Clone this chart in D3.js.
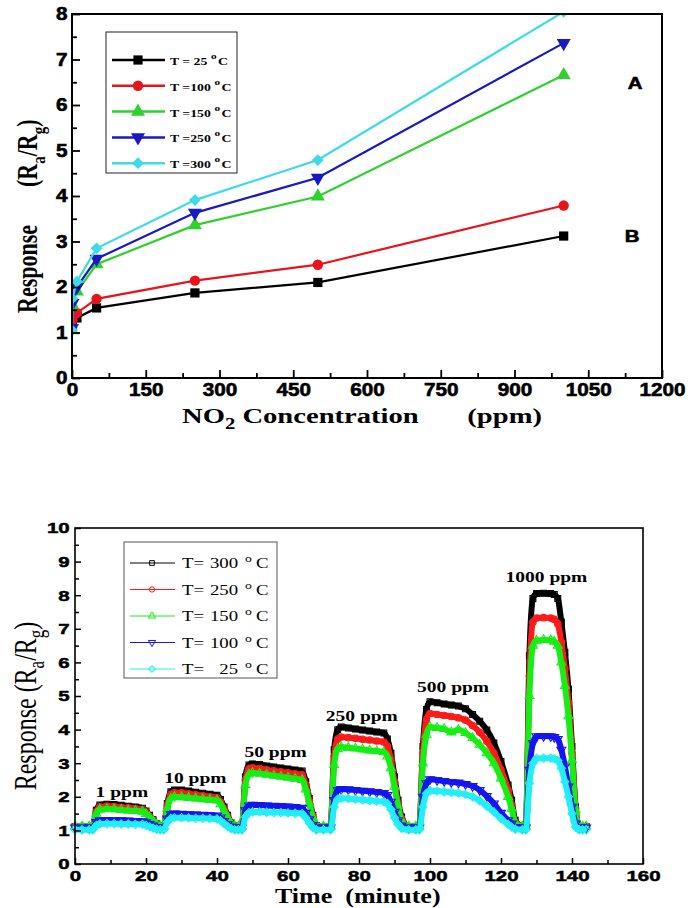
<!DOCTYPE html>
<html>
<head>
<meta charset="utf-8">
<script src="https://cdn.jsdelivr.net/npm/d3@7"></script>
<style>
  body { margin: 0; background: #fff; }
  svg { display: block; }
</style>
</head>
<body>
<svg id="chart" width="688" height="908"></svg>
<script>
// ---------- top panel: response vs NO2 concentration ----------
const concentration = [0, 1, 10, 50, 250, 500, 1000];
const resp25  = [1.10, 1.20, 1.32, 1.54, 1.87, 2.10, 3.12];
const resp100 = [1.10, 1.28, 1.43, 1.74, 2.14, 2.49, 3.79];
const resp150 = [1.05, 1.60, 1.90, 2.50, 3.36, 3.99, 6.66];
const resp250 = [1.10, 1.65, 2.00, 2.62, 3.63, 4.40, 7.36];
const resp300 = [1.05, 1.75, 2.12, 2.85, 3.91, 4.79, 8.05];
const topLegend = ['T = 25', 'T =100', 'T =150', 'T =250', 'T =300'];

const xTicksTop = [0, 150, 300, 450, 600, 750, 900, 1050, 1200];
const xMinorTop = [75, 225, 375, 525, 675, 825, 975, 1125];
const yTicksTop = [0, 1, 2, 3, 4, 5, 6, 7, 8];
const yMinorTop = [0.5, 1.5, 2.5, 3.5, 4.5, 5.5, 6.5, 7.5];

// ---------- bottom panel: dynamic response vs time ----------
const minutes = [
  0, 2, 4, 5, 6, 7, 9, 11, 13, 15, 17, 19, 20, 21, 22, 23, 24, 25,
  26, 27, 28, 30, 32, 34, 36, 38, 40, 41, 42, 43, 44, 45, 46, 47,
  48, 49, 50, 52, 54, 56, 58, 60, 62, 64, 65, 66, 67, 68, 70, 72,
  73, 74, 75, 77, 79, 81, 83, 85, 87, 88, 89, 90, 91, 92, 94, 96, 97,
  98, 99, 100, 102, 104, 106, 108, 110, 112, 114, 116, 118, 120, 122, 123, 124, 126, 127,
  128, 129, 130, 132, 134, 135, 136, 137, 138, 139, 140, 141, 142, 143, 144
];
const t300 = [
  1.12, 1.12, 1.12, 1.12, 1.6, 1.76, 1.78, 1.77, 1.75, 1.72, 1.7, 1.66, 1.58, 1.45, 1.32, 1.2, 1.13, 1.12,
  1.8, 2.15, 2.2, 2.2, 2.17, 2.14, 2.11, 2.08, 2.05, 1.92, 1.7, 1.45, 1.22, 1.13, 1.12, 1.12,
  2.6, 2.95, 2.98, 2.96, 2.92, 2.89, 2.86, 2.83, 2.8, 2.77, 2.45, 1.95, 1.45, 1.15, 1.12, 1.12,
  3.4, 4.0, 4.08, 4.05, 4.02, 3.99, 3.96, 3.93, 3.9, 3.72, 3.3, 2.6, 1.9, 1.4, 1.12, 1.12, 1.12,
  3.5, 4.6, 4.83, 4.8, 4.76, 4.73, 4.7, 4.62, 4.45, 4.25, 3.99, 3.6, 3.05, 2.35, 1.9, 1.3, 1.12, 1.12,
  6.2, 7.9, 8.05, 8.06, 8.05, 8.02, 7.9, 7.2, 6.3, 5.2, 3.5, 1.7, 1.12, 1.12, 1.12
];
const t250 = [
  1.12, 1.12, 1.12, 1.12, 1.55, 1.7, 1.72, 1.71, 1.69, 1.67, 1.65, 1.62, 1.54, 1.42, 1.3, 1.19, 1.13, 1.12,
  1.75, 2.07, 2.12, 2.12, 2.09, 2.06, 2.03, 2.0, 1.97, 1.85, 1.64, 1.41, 1.2, 1.13, 1.12, 1.12,
  2.5, 2.83, 2.86, 2.84, 2.8, 2.77, 2.74, 2.71, 2.68, 2.65, 2.35, 1.88, 1.42, 1.15, 1.12, 1.12,
  3.2, 3.72, 3.78, 3.76, 3.74, 3.71, 3.69, 3.66, 3.63, 3.5, 3.1, 2.45, 1.8, 1.35, 1.12, 1.12, 1.12,
  3.3, 4.3, 4.48, 4.45, 4.42, 4.39, 4.35, 4.28, 4.12, 3.92, 3.65, 3.3, 2.8, 2.2, 1.75, 1.25, 1.12, 1.12,
  5.6, 7.2, 7.32, 7.33, 7.32, 7.28, 7.15, 6.6, 5.8, 4.8, 3.3, 1.65, 1.12, 1.12, 1.12
];
const t150 = [
  1.12, 1.12, 1.12, 1.12, 1.5, 1.62, 1.64, 1.63, 1.61, 1.59, 1.58, 1.56, 1.49, 1.39, 1.28, 1.18, 1.13, 1.12,
  1.65, 1.95, 2.0, 1.99, 1.97, 1.95, 1.93, 1.91, 1.89, 1.78, 1.58, 1.37, 1.19, 1.13, 1.12, 1.12,
  2.35, 2.67, 2.71, 2.69, 2.66, 2.63, 2.6, 2.57, 2.54, 2.5, 2.22, 1.8, 1.38, 1.14, 1.12, 1.12,
  2.95, 3.42, 3.48, 3.46, 3.44, 3.41, 3.38, 3.36, 3.33, 3.2, 2.85, 2.3, 1.72, 1.3, 1.12, 1.12, 1.12,
  3.0, 3.85, 4.08, 4.05, 4.02, 3.92, 4.0, 3.9, 3.75, 3.55, 3.3, 3.0, 2.55, 2.0, 1.65, 1.22, 1.12, 1.12,
  5.0, 6.5, 6.65, 6.67, 6.66, 6.62, 6.5, 6.0, 5.3, 4.4, 3.1, 1.6, 1.12, 1.12, 1.12
];
const t100 = [
  1.08, 1.08, 1.08, 1.08, 1.25, 1.3, 1.31, 1.3, 1.3, 1.29, 1.28, 1.27, 1.24, 1.19, 1.14, 1.1, 1.08, 1.08,
  1.35, 1.48, 1.5, 1.49, 1.48, 1.47, 1.46, 1.45, 1.44, 1.38, 1.28, 1.18, 1.11, 1.08, 1.08, 1.08,
  1.6, 1.74, 1.76, 1.75, 1.74, 1.73, 1.72, 1.71, 1.69, 1.67, 1.52, 1.33, 1.16, 1.08, 1.08, 1.08,
  1.9, 2.2, 2.23, 2.22, 2.2, 2.18, 2.16, 2.14, 2.11, 2.05, 1.85, 1.55, 1.3, 1.14, 1.08, 1.08, 1.08,
  2.0, 2.4, 2.52, 2.5, 2.47, 2.44, 2.42, 2.38, 2.32, 2.2, 2.02, 1.8, 1.52, 1.3, 1.2, 1.1, 1.08, 1.08,
  2.8, 3.6, 3.8, 3.81, 3.8, 3.78, 3.72, 3.4, 2.9, 2.3, 1.7, 1.2, 1.08, 1.08, 1.08
];
const t25 = [
  1.02, 1.02, 1.02, 1.02, 1.15, 1.19, 1.2, 1.2, 1.19, 1.19, 1.18, 1.18, 1.15, 1.11, 1.07, 1.04, 1.02, 1.02,
  1.25, 1.36, 1.38, 1.38, 1.37, 1.36, 1.36, 1.35, 1.34, 1.29, 1.2, 1.12, 1.05, 1.02, 1.02, 1.02,
  1.4, 1.53, 1.55, 1.55, 1.54, 1.53, 1.53, 1.52, 1.51, 1.5, 1.38, 1.22, 1.08, 1.02, 1.02, 1.02,
  1.7, 1.93, 1.96, 1.95, 1.93, 1.91, 1.89, 1.87, 1.85, 1.8, 1.62, 1.38, 1.18, 1.06, 1.02, 1.02, 1.02,
  1.7, 2.1, 2.18, 2.17, 2.15, 2.13, 2.11, 2.07, 2.0, 1.88, 1.72, 1.55, 1.35, 1.18, 1.1, 1.04, 1.02, 1.02,
  2.4, 3.0, 3.14, 3.15, 3.15, 3.13, 3.08, 2.85, 2.45, 2.0, 1.5, 1.1, 1.02, 1.02, 1.02
];
const bottomLegend = ['300', '250', '150', '100', '25'];
const pulseLabels = ['1 ppm', '10 ppm', '50 ppm', '250 ppm', '500 ppm', '1000 ppm'];
const pulseLabelTime = [13.2, 33.9, 56.5, 80.8, 106.5, 132.8];
const pulseLabelLevel = [2.0, 2.41, 3.18, 4.26, 5.12, 8.39];

const xTicksBot = [0, 20, 40, 60, 80, 100, 120, 140, 160];
const xMinorBot = [10, 30, 50, 70, 90, 110, 130, 150];
const yTicksBot = [0, 1, 2, 3, 4, 5, 6, 7, 8, 9, 10];
const yMinorBot = [0.5, 1.5, 2.5, 3.5, 4.5, 5.5, 6.5, 7.5, 8.5, 9.5];

// ---------- drawing ----------
const SERIF = '"Liberation Serif", "Times New Roman", serif';
const SANS = '"Liberation Sans", Arial, sans-serif';

const svg = d3.select('#chart');

const shapes = {
  square:  {type: d3.symbolSquare,   rot: 0},
  circle:  {type: d3.symbolCircle,   rot: 0},
  up:      {type: d3.symbolTriangle, rot: 0},
  down:    {type: d3.symbolTriangle, rot: 180},
  diamond: {type: d3.symbolSquare,   rot: 45}
};

// text that is a bit wider than normal, like the scanned figure
function wideText(parent, x, y, sx, vertical) {
  return parent.append('text')
    .attr('transform', `translate(${x},${y}) scale(${sx},1)` + (vertical ? ' rotate(-90)' : ''));
}

function frameAxes(g, x, y, cfg) {
  const [x0, x1] = x.range(), [y0, y1] = y.range();
  g.append('g').attr('transform', `translate(0,${y0})`)
    .call(d3.axisBottom(x).tickValues(cfg.xTicks).tickSize(-cfg.major).tickPadding(cfg.xPad).tickFormat(d3.format('d')));
  g.append('g').attr('transform', `translate(0,${y0})`)
    .call(d3.axisBottom(x).tickValues(cfg.xMinor).tickSize(-cfg.minor).tickFormat(''));
  g.append('g').attr('transform', `translate(${x0},0)`)
    .call(d3.axisLeft(y).tickValues(cfg.yTicks).tickSize(-cfg.major).tickPadding(cfg.yPad).tickFormat(d3.format('d')));
  g.append('g').attr('transform', `translate(${x0},0)`)
    .call(d3.axisLeft(y).tickValues(cfg.yMinor).tickSize(-cfg.minor).tickFormat(''));

  g.selectAll('.domain').remove();
  g.selectAll('.tick line').attr('stroke', '#000').attr('stroke-width', cfg.tickW);
  g.selectAll('.tick text')
    .attr('fill', '#000')
    .attr('stroke', '#000')
    .attr('stroke-width', cfg.heavy)
    .attr('font-family', SANS)
    .attr('font-weight', 'bold')
    .attr('font-size', cfg.font)
    .attr('transform', `scale(${cfg.sx},1)`);

  g.append('rect')
    .attr('x', x0).attr('y', y1)
    .attr('width', x1 - x0).attr('height', y0 - y1)
    .attr('fill', 'none')
    .attr('stroke', '#000')
    .attr('stroke-width', cfg.frame);
}

// ===== top chart =====
const topBox = {left: 72, right: 662, top: 14, bottom: 378};
const xTop = d3.scaleLinear().domain([0, 1200]).range([topBox.left, topBox.right]);
const yTop = d3.scaleLinear().domain([0, 8]).range([topBox.bottom, topBox.top]);

const topSeries = [
  {values: resp25,  color: '#000000', shape: 'square',  label: topLegend[0]},
  {values: resp100, color: '#e8141b', shape: 'circle',  label: topLegend[1]},
  {values: resp150, color: '#2ed12e', shape: 'up',      label: topLegend[2]},
  {values: resp250, color: '#1818c4', shape: 'down',    label: topLegend[3]},
  {values: resp300, color: '#3cdbe6', shape: 'diamond', label: topLegend[4]}
];

const gTop = svg.append('g');

svg.append('clipPath').attr('id', 'clipTop')
  .append('rect')
  .attr('x', topBox.left).attr('y', topBox.top)
  .attr('width', topBox.right - topBox.left).attr('height', topBox.bottom - topBox.top);

const topPlot = gTop.append('g').attr('clip-path', 'url(#clipTop)');
const lineTop = d3.line()
  .x((d, i) => xTop(concentration[i]))
  .y(d => yTop(d));

topSeries.forEach(s => {
  topPlot.append('path')
    .datum(s.values)
    .attr('d', lineTop)
    .attr('fill', 'none')
    .attr('stroke', s.color)
    .attr('stroke-width', 2.2);
  topPlot.selectAll(null)
    .data(s.values)
    .enter().append('path')
    .attr('d', d3.symbol().type(shapes[s.shape].type).size(s.shape === 'diamond' ? 70 : 85))
    .attr('transform', (d, i) => `translate(${xTop(concentration[i])},${yTop(d)}) rotate(${shapes[s.shape].rot})`)
    .attr('fill', s.color);
});

frameAxes(gTop, xTop, yTop, {
  xTicks: xTicksTop, xMinor: xMinorTop, yTicks: yTicksTop, yMinor: yMinorTop,
  major: 8, minor: 5, xPad: 5, yPad: 4, tickW: 1.8, font: 18, sx: 1.15, heavy: 0.6, frame: 2
});

// legend
const legTop = gTop.append('g');
legTop.append('rect')
  .attr('x', 106).attr('y', 32).attr('width', 131).attr('height', 141)
  .attr('fill', '#fff').attr('stroke', '#222').attr('stroke-width', 1);
topSeries.forEach((s, i) => {
  const y = 60 + i * 25.8;
  legTop.append('line')
    .attr('x1', 112).attr('x2', 165).attr('y1', y).attr('y2', y)
    .attr('stroke', s.color).attr('stroke-width', 2.5);
  legTop.append('path')
    .attr('d', d3.symbol().type(shapes[s.shape].type).size(s.shape === 'diamond' ? 70 : 85))
    .attr('transform', `translate(138,${y}) rotate(${shapes[s.shape].rot})`)
    .attr('fill', s.color);
  const t = wideText(legTop, 170, y + 5, 1.25)
    .attr('font-family', SERIF).attr('font-weight', 'bold').attr('font-size', 11)
    .style('white-space', 'pre');
  t.append('tspan').text(s.label);
  t.append('tspan').attr('dx', 3).attr('dy', -6).attr('font-size', 9).text('o');
  t.append('tspan').attr('dx', 1).attr('dy', 6).text('C');
});

// A / B marks
[['A', 635, 89], ['B', 632, 242]].forEach(([txt, x, y]) => {
  wideText(gTop, x, y, 1.2)
    .attr('text-anchor', 'middle')
    .attr('font-family', SANS).attr('font-weight', 'bold').attr('font-size', 17)
    .attr('stroke', '#000').attr('stroke-width', 0.6)
    .text(txt);
});

// axis titles
const yTitleTop = wideText(gTop, 37, 313, 1.3, true)
  .attr('font-family', SERIF).attr('font-weight', 'bold').attr('font-size', 22);
yTitleTop.append('tspan').text('Response');
yTitleTop.append('tspan').attr('dx', 38).text('(R');
yTitleTop.append('tspan').attr('dy', 6).attr('font-size', 15).text('a');
yTitleTop.append('tspan').attr('dy', -6).text('/R');
yTitleTop.append('tspan').attr('dy', 6).attr('font-size', 15).text('g');
yTitleTop.append('tspan').attr('dy', -6).text(')');

const xTitleTop = wideText(gTop, 182, 423, 1.3)
  .attr('font-family', SERIF).attr('font-weight', 'bold').attr('font-size', 22);
xTitleTop.append('tspan').text('NO');
xTitleTop.append('tspan').attr('dy', 6).attr('font-size', 16).text('2');
xTitleTop.append('tspan').attr('dy', -6).text(' Concentration');
wideText(gTop, 542, 423, 1.3)
  .attr('text-anchor', 'end')
  .attr('font-family', SERIF).attr('font-weight', 'bold').attr('font-size', 22)
  .text('(ppm)');

// ===== bottom chart =====
const botBox = {left: 75, right: 643, top: 528, bottom: 864};
const xBot = d3.scaleLinear().domain([0, 160]).range([botBox.left, botBox.right]);
const yBot = d3.scaleLinear().domain([0, 10]).range([botBox.bottom, botBox.top]);

const botSeries = [
  {values: t300, color: '#000000', shape: 'square',  label: bottomLegend[0]},
  {values: t250, color: '#ff1a1a', shape: 'circle',  label: bottomLegend[1]},
  {values: t150, color: '#16ee16', shape: 'up',      label: bottomLegend[2]},
  {values: t100, color: '#1515f0', shape: 'down',    label: bottomLegend[3]},
  {values: t25,  color: '#22eef6', shape: 'diamond', label: bottomLegend[4]}
];

const gBot = svg.append('g');
const lineBot = d3.line()
  .x((d, i) => xBot(minutes[i]))
  .y(d => yBot(d))
  .curve(d3.curveMonotoneX);

botSeries.forEach(s => {
  gBot.append('path')
    .datum(s.values)
    .attr('d', lineBot)
    .attr('fill', 'none')
    .attr('stroke', s.color)
    .attr('stroke-width', 6)
    .attr('stroke-linejoin', 'round');
  gBot.selectAll(null)
    .data(s.values)
    .enter().append('path')
    .attr('d', d3.symbol().type(shapes[s.shape].type).size(34))
    .attr('transform', (d, i) => `translate(${xBot(minutes[i])},${yBot(d)}) rotate(${shapes[s.shape].rot})`)
    .attr('fill', 'none')
    .attr('stroke', s.color)
    .attr('stroke-width', 1.1);
});

frameAxes(gBot, xBot, yBot, {
  xTicks: xTicksBot, xMinor: xMinorBot, yTicks: yTicksBot, yMinor: yMinorBot,
  major: 6, minor: 4, xPad: 6, yPad: 4, tickW: 1.5, font: 15.5, sx: 1.32, heavy: 0.5, frame: 1.6
});

// concentration labels over each pulse
pulseLabels.forEach((txt, i) => {
  wideText(gBot, xBot(pulseLabelTime[i]), yBot(pulseLabelLevel[i]), 1.3)
    .attr('text-anchor', 'middle')
    .attr('font-family', SERIF).attr('font-weight', 'bold').attr('font-size', 15)
    .text(txt);
});

// legend
const legBot = gBot.append('g');
legBot.append('rect')
  .attr('x', 124).attr('y', 542).attr('width', 153).attr('height', 136)
  .attr('fill', '#fff').attr('stroke', '#555').attr('stroke-width', 1);
botSeries.forEach((s, i) => {
  const y = 563 + i * 26.5;
  legBot.append('line')
    .attr('x1', 130).attr('x2', 175).attr('y1', y).attr('y2', y)
    .attr('stroke', s.color).attr('stroke-width', 1);
  legBot.append('path')
    .attr('d', d3.symbol().type(shapes[s.shape].type).size(22))
    .attr('transform', `translate(152,${y}) rotate(${shapes[s.shape].rot})`)
    .attr('fill', 'none').attr('stroke', s.color).attr('stroke-width', 1);
  const base = y + 5;
  wideText(legBot, 182, base, 1.25)
    .attr('font-family', SERIF).attr('font-size', 15).text('T=');
  wideText(legBot, 238, base, 1.25)
    .attr('text-anchor', 'end')
    .attr('font-family', SERIF).attr('font-size', 15).text(s.label);
  wideText(legBot, 245, base - 6, 1.25)
    .attr('font-family', SERIF).attr('font-size', 11).text('o');
  wideText(legBot, 256, base, 1.25)
    .attr('font-family', SERIF).attr('font-size', 15).text('C');
});

// axis titles
const yTitleBot = wideText(gBot, 36, 706, 1.3, true)
  .attr('text-anchor', 'middle')
  .attr('font-family', SERIF).attr('font-size', 24);
yTitleBot.append('tspan').text('Response (R');
yTitleBot.append('tspan').attr('dy', 6).attr('font-size', 17).text('a');
yTitleBot.append('tspan').attr('dy', -6).text('/R');
yTitleBot.append('tspan').attr('dy', 6).attr('font-size', 17).text('g');
yTitleBot.append('tspan').attr('dy', -6).text(')');

wideText(gBot, 275, 903, 1.3)
  .attr('font-family', SERIF).attr('font-weight', 'bold').attr('font-size', 20)
  .style('white-space', 'pre')
  .text('Time  (minute)');
</script>
</body>
</html>
